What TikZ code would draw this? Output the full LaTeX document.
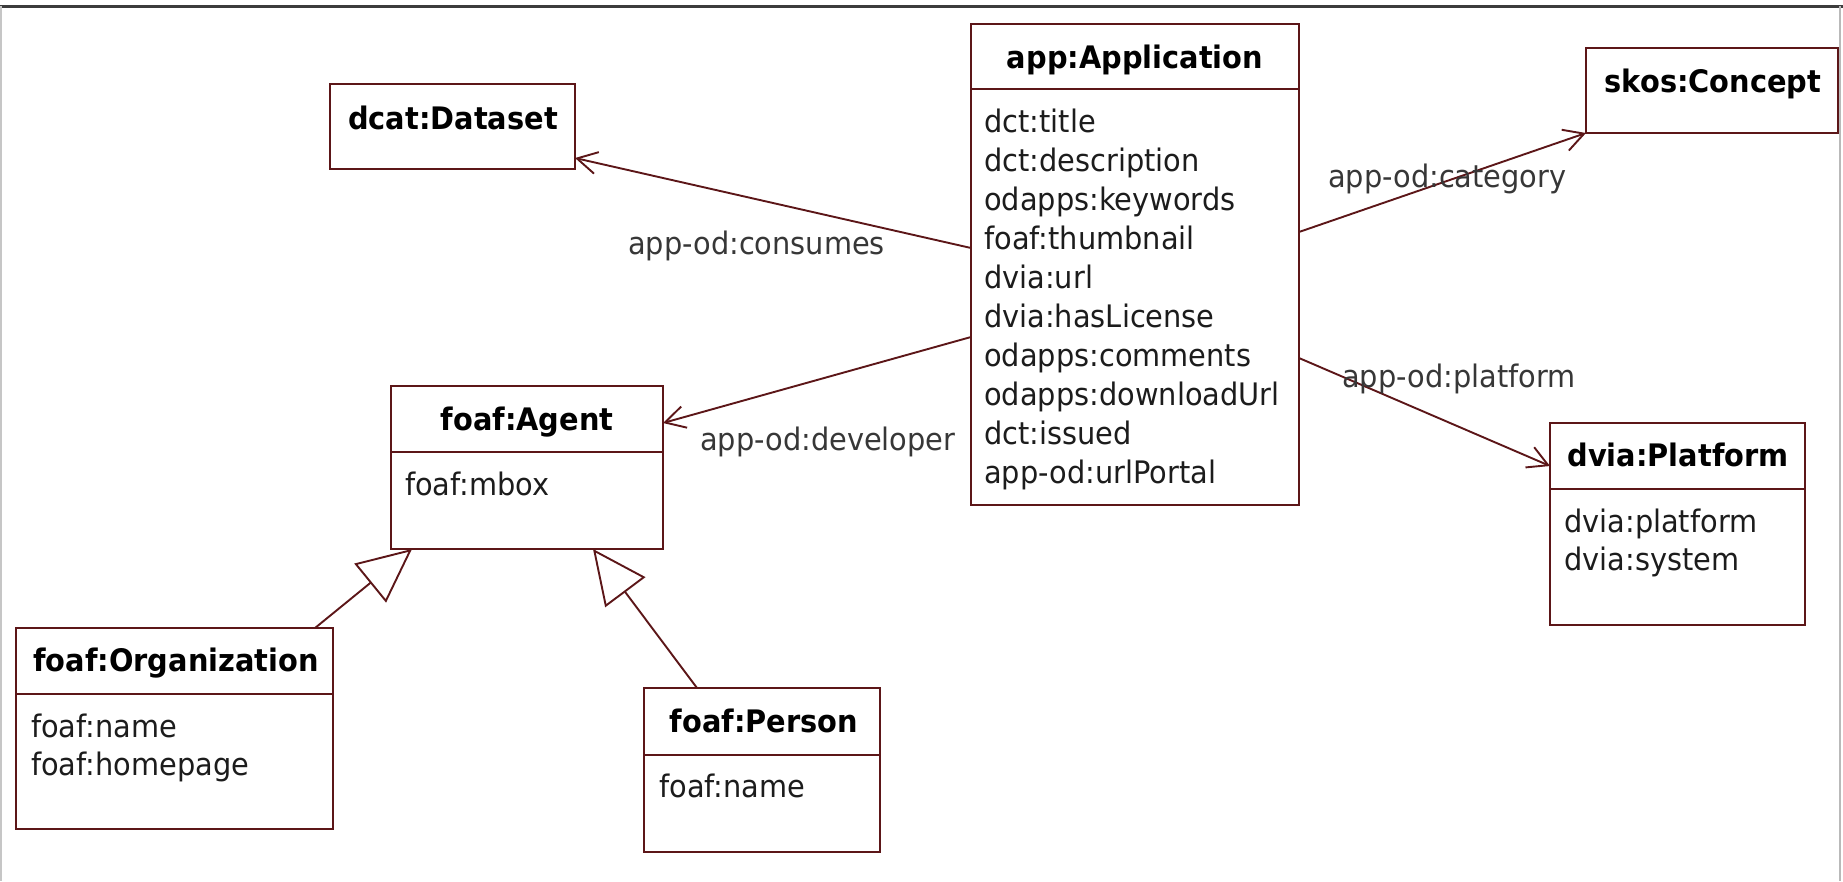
\documentclass[tikz,border=0pt]{standalone}
\usepackage{fontspec}
\setmainfont{DejaVu Sans}[FakeStretch=0.93]
\usetikzlibrary{arrows.meta}
\definecolor{umlred}{RGB}{92,22,24}
\definecolor{txtdark}{RGB}{28,28,28}
\definecolor{lblgray}{RGB}{55,55,55}
\definecolor{framedark}{RGB}{60,60,60}
\begin{document}
\begin{tikzpicture}[x=1pt,y=-1pt,
  box/.style={draw=umlred, line width=2.8pt, inner sep=0pt, outer sep=0pt},
  boxline/.style={draw=umlred, line width=2.8pt},
  umltitle/.style={font=\fontsize{31}{37}\selectfont\bfseries, text=black, anchor=base, inner sep=0pt},
  attr/.style={font=\fontsize{31}{37}\selectfont, text=txtdark, anchor=base west, inner sep=0pt},
  rolelabel/.style={font=\fontsize{31}{37}\selectfont, text=lblgray, anchor=base west, inner sep=0pt},
  assoc/.style={draw=umlred, line width=1.9pt, -{Straight Barb[length=20pt,width=22pt]}},
  gen/.style={draw=umlred, line width=1.9pt, -{Triangle[open,length=54pt,width=50pt]}}
]
\useasboundingbox (0,0) rectangle (1843,881);
% frame
\draw[line width=3pt, framedark] (0,6) -- (1843,6);
\draw[line width=2pt, gray!45] (1,6) -- (1,881);
\draw[line width=2pt, gray!55] (1840,6) -- (1840,881);

% boxes
\node[box, minimum width=245pt, minimum height=85pt] (dcat) at (452.5,126.5) {};
\node[box, minimum width=328pt, minimum height=481pt] (app) at (1135,264.5) {};
\node[box, minimum width=252pt, minimum height=85pt] (concept) at (1712,90.5) {};
\node[box, minimum width=255pt, minimum height=202pt] (platform) at (1677.5,524) {};
\node[box, minimum width=272pt, minimum height=163pt] (agent) at (527,467.5) {};
\node[box, minimum width=317pt, minimum height=201pt] (org) at (174.5,728.5) {};
\node[box, minimum width=236pt, minimum height=164pt] (person) at (762,770) {};

% dividers
\draw[boxline] (app.west |- 0,89) -- (app.east |- 0,89);
\draw[boxline] (platform.west |- 0,489) -- (platform.east |- 0,489);
\draw[boxline] (agent.west |- 0,452) -- (agent.east |- 0,452);
\draw[boxline] (org.west |- 0,694) -- (org.east |- 0,694);
\draw[boxline] (person.west |- 0,755) -- (person.east |- 0,755);

% titles
\node[umltitle] (dcatT) at (453,129) {dcat:Dataset};
\node[umltitle] (appT) at (1135,68) {app:Application};
\node[umltitle] (conceptT) at (1713,92) {skos:Concept};
\node[umltitle] (platformT) at (1678,466) {dvia:Platform};
\node[umltitle] (agentT) at (527,430) {foaf:Agent};
\node[umltitle] (orgT) at (176,671) {foaf:Organization};
\node[umltitle] (personT) at (764,732) {foaf:Person};

% attributes
\foreach \t [count=\i] in {dct:title,dct:description,odapps:keywords,foaf:thumbnail,dvia:url,dvia:hasLicense,odapps:comments,odapps:downloadUrl,dct:issued,app-od:urlPortal}
  \node[attr] (appA\i) at (984,{132+39.1*(\i-1)}) {\t};
\node[attr] (platformA1) at (1564,532) {dvia:platform};
\node[attr] (platformA2) at (1564,570) {dvia:system};
\node[attr] (agentA1) at (405,495) {foaf:mbox};
\node[attr] (orgA1) at (31,737) {foaf:name};
\node[attr] (orgA2) at (31,775) {foaf:homepage};
\node[attr] (personA1) at (659,797) {foaf:name};

% connectors
\draw[assoc] (app.west |- 0,248) -- (dcat.east |- 0,158);
\draw[assoc] (app.west |- 0,337) -- (agent.east |- 0,423);
\draw[assoc] (app.east |- 0,232) -- (concept.south west);
\draw[assoc] (app.east |- 0,358) -- (platform.west |- 0,466);
\draw[gen] (org.north -| 315,0) -- (agent.south -| 412,0);
\draw[gen] (person.north -| 697,0) -- (agent.south -| 593,0);

% labels
\node[rolelabel] (lconsumes) at (628,254) {app-od:consumes};
\node[rolelabel] (ldeveloper) at (700,450) {app-od:developer};
\node[rolelabel] (lcategory) at (1328,187) {app-od:category};
\node[rolelabel] (lplatform) at (1342,387) {app-od:platform};
\end{tikzpicture}
\end{document}
